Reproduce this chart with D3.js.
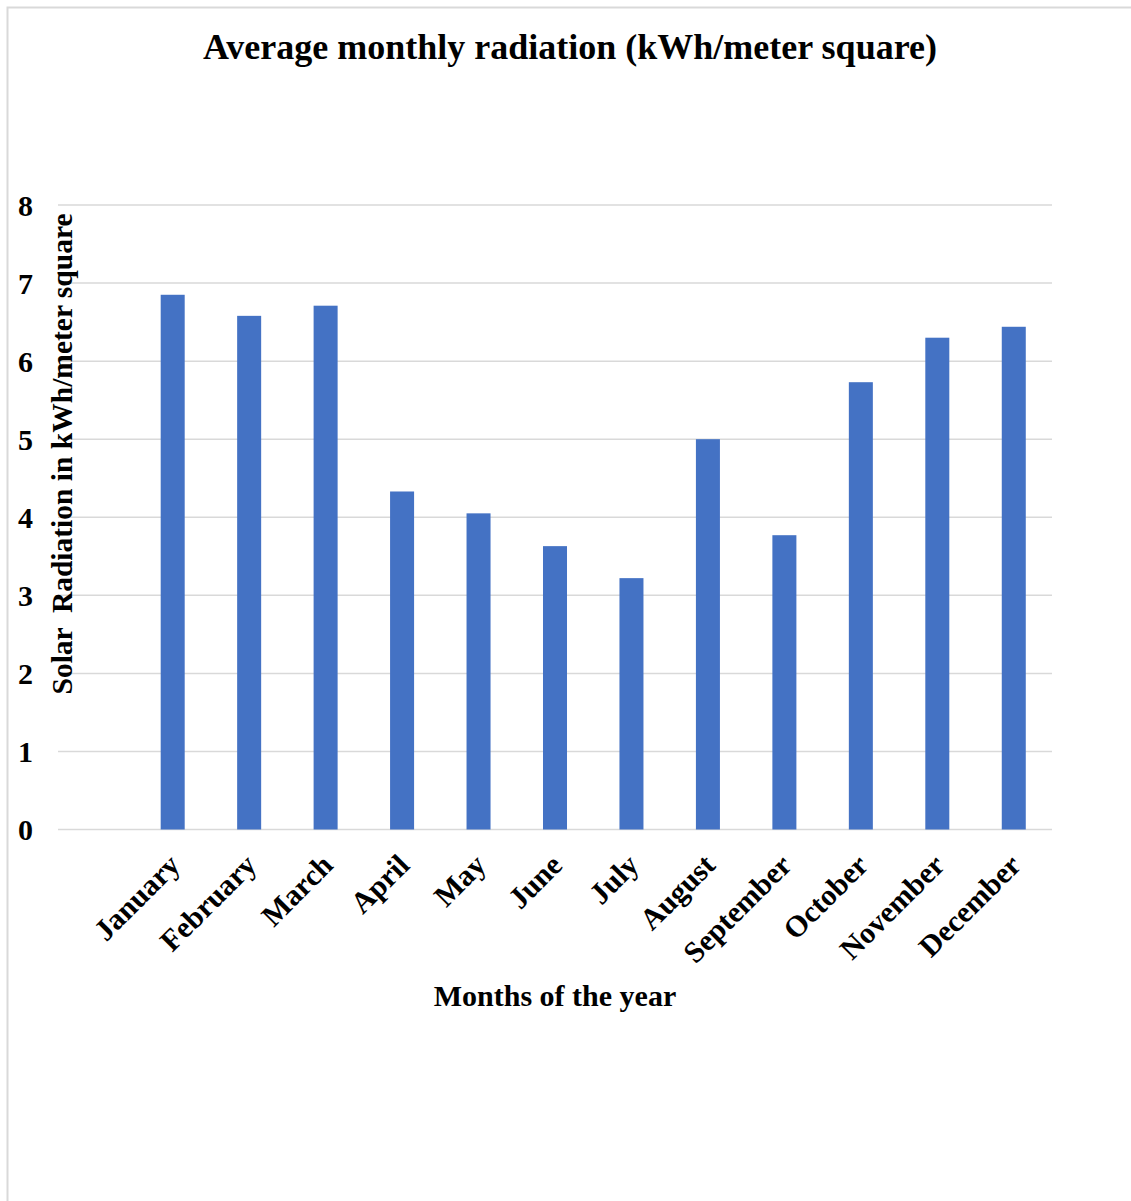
<!DOCTYPE html>
<html>
<head>
<meta charset="utf-8">
<script src="https://cdn.jsdelivr.net/npm/d3@7"></script>
<style>
  html, body { margin: 0; padding: 0; background: #fff; }
  svg { display: block; }
  text { font-family: "Liberation Serif", "Times New Roman", serif; font-weight: bold; fill: #000; }
</style>
</head>
<body>
<script>
// Monthly average solar radiation (kWh per square metre)
const months = ["January", "February", "March", "April", "May", "June",
                "July", "August", "September", "October", "November", "December"];
const radiation = [6.85, 6.58, 6.71, 4.33, 4.05, 3.63, 3.22, 5.00, 3.77, 5.73, 6.30, 6.44];
const yTicks = [0, 1, 2, 3, 4, 5, 6, 7, 8];

const W = 1131, H = 1201;
const svg = d3.select("body").append("svg").attr("width", W).attr("height", H);

// Chart frame (runs off the right and bottom edges)
svg.append("rect")
  .attr("x", 7.5).attr("y", 7.5)
  .attr("width", W + 20).attr("height", H + 20)
  .attr("fill", "#fff").attr("stroke", "#d9d9d9").attr("stroke-width", 2);

const plot = { left: 58, right: 1052, top: 205, bottom: 829.5 };

// A leading blank category leaves an empty slot before January
const x = d3.scaleBand()
  .domain(["", ...months])
  .range([plot.left, plot.right])
  .padding(0);

const y = d3.scaleLinear().domain([0, 8]).range([plot.bottom, plot.top]);

const barW = x.bandwidth() * 0.314;

// Horizontal gridlines
svg.append("g")
  .selectAll("line")
  .data(yTicks)
  .join("line")
  .attr("x1", plot.left).attr("x2", plot.right)
  .attr("y1", d => y(d)).attr("y2", d => y(d))
  .attr("stroke", "#d9d9d9").attr("stroke-width", 1.5);

// Y tick labels
svg.append("g")
  .selectAll("text")
  .data(yTicks)
  .join("text")
  .attr("x", 33).attr("y", d => y(d))
  .attr("dy", "0.35em")
  .attr("text-anchor", "end")
  .style("font-size", "30px")
  .text(d => d);

// Bars
svg.append("g")
  .selectAll("rect")
  .data(months.map((m, i) => ({ m, v: radiation[i] })))
  .join("rect")
  .attr("x", d => x(d.m) + x.bandwidth() / 2 - barW / 2)
  .attr("width", barW)
  .attr("y", d => y(d.v))
  .attr("height", d => y(0) - y(d.v))
  .attr("fill", "#4472c4");

// Rotated month labels
svg.append("g")
  .selectAll("text")
  .data(months)
  .join("text")
  .attr("transform", d => `translate(${x(d) + x.bandwidth() / 2 + 9},${867}) rotate(-45)`)
  .attr("text-anchor", "end")
  .style("font-size", "30px")
  .text(d => d);

// Title
svg.append("text")
  .attr("x", 570).attr("y", 59)
  .attr("text-anchor", "middle")
  .style("font-size", "36px")
  .text("Average monthly radiation (kWh/meter square)");

// Axis titles
svg.append("text")
  .attr("x", 555).attr("y", 1006)
  .attr("text-anchor", "middle")
  .style("font-size", "30px")
  .text("Months of the year");

svg.append("text")
  .attr("transform", "translate(72,454) rotate(-90)")
  .attr("text-anchor", "middle")
  .style("font-size", "29.5px")
  .style("white-space", "pre")
  .text("Solar  Radiation in kWh/meter square");
</script>
</body>
</html>
